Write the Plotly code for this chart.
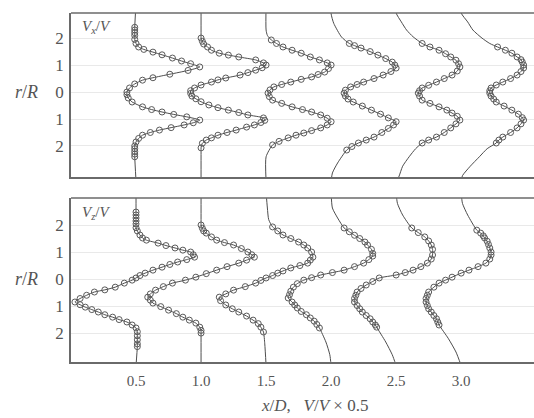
import plotly.graph_objects as go

# ---------------- data ----------------
STATIONS = [0.5, 1.0, 1.5, 2.0, 2.5, 3.0]
X_TICKS = [0.5, 1.0, 1.5, 2.0, 2.5, 3.0]
X_TICK_TEXT = ["0.5", "1.0", "1.5", "2.0", "2.5", "3.0"]
Y_TICKS = [2, 1, 0, -1, -2]
Y_TICK_TEXT = ["2", "1", "0", "1", "2"]

# Top panel, Vx/V : r/R positions and profile displacement (x/D units)
VX_R_05 = [3.3, 2.4, 2.3, 2.2, 2.1, 1.95, 1.8, 1.67, 1.58, 1.48, 1.38, 1.26, 1.15, 1.05, 0.93, 0.8, 0.66, 0.53, 0.44, 0.3, 0.15, 0.0, -0.1, -0.22, -0.37, -0.55, -0.65, -0.74, -0.83, -0.92, -1.04, -1.14, -1.22, -1.32, -1.41, -1.5, -1.6, -1.72, -1.85, -2.0, -2.1, -2.2, -2.3, -2.4, -3.3]
VX_D_05 = [0.0, -0.01, -0.01, -0.01, -0.01, -0.01, 0.0, 0.02, 0.06, 0.13, 0.2, 0.28, 0.35, 0.42, 0.49, 0.4, 0.26, 0.13, 0.05, -0.01, -0.05, -0.07, -0.07, -0.06, -0.03, 0.05, 0.12, 0.2, 0.29, 0.39, 0.49, 0.44, 0.37, 0.27, 0.18, 0.11, 0.05, 0.02, 0.0, -0.01, -0.01, -0.01, -0.01, -0.01, 0.0]
VX_R_10 = [3.3, 2.1, 2.0, 1.88, 1.78, 1.67, 1.55, 1.44, 1.37, 1.3, 1.19, 1.08, 1.0, 0.9, 0.81, 0.72, 0.63, 0.52, 0.45, 0.37, 0.26, 0.15, 0.05, -0.05, -0.15, -0.25, -0.36, -0.48, -0.58, -0.67, -0.76, -0.85, -0.96, -1.05, -1.13, -1.22, -1.3, -1.41, -1.5, -1.6, -1.7, -1.78, -1.9, -2.07, -2.2, -3.3]
VX_D_10 = [0.0, 0.0, 0.0, 0.01, 0.02, 0.05, 0.08, 0.14, 0.21, 0.29, 0.42, 0.48, 0.5, 0.47, 0.42, 0.36, 0.3, 0.19, 0.13, 0.08, 0.0, -0.05, -0.08, -0.08, -0.07, -0.04, 0.0, 0.06, 0.13, 0.21, 0.29, 0.36, 0.48, 0.49, 0.46, 0.41, 0.35, 0.27, 0.2, 0.13, 0.08, 0.04, 0.01, 0.0, 0.0, 0.0]
VX_R_15 = [3.3, 2.3, 2.1, 1.93, 1.8, 1.67, 1.55, 1.44, 1.3, 1.19, 1.08, 1.0, 0.87, 0.74, 0.65, 0.56, 0.47, 0.37, 0.28, 0.19, 0.08, -0.04, -0.17, -0.3, -0.42, -0.55, -0.65, -0.74, -0.85, -0.97, -1.1, -1.22, -1.33, -1.43, -1.52, -1.6, -1.7, -1.83, -1.96, -2.4, -3.3]
VX_D_15 = [0.0, 0.0, 0.01, 0.04, 0.08, 0.13, 0.2, 0.27, 0.34, 0.41, 0.47, 0.5, 0.48, 0.45, 0.4, 0.35, 0.27, 0.19, 0.12, 0.06, 0.03, 0.015, 0.025, 0.05, 0.12, 0.2, 0.28, 0.35, 0.42, 0.47, 0.5, 0.47, 0.42, 0.35, 0.29, 0.23, 0.17, 0.1, 0.05, 0.0, 0.0]
VX_R_20 = [3.3, 2.9, 2.55, 2.04, 1.8, 1.72, 1.63, 1.5, 1.37, 1.24, 1.11, 1.0, 0.89, 0.76, 0.63, 0.5, 0.37, 0.28, 0.19, 0.07, -0.04, -0.15, -0.26, -0.37, -0.52, -0.67, -0.82, -0.96, -1.1, -1.22, -1.35, -1.5, -1.67, -1.78, -1.89, -2.02, -2.15, -2.63, -3.0, -3.3]
VX_D_20 = [0.0, 0.0, 0.02, 0.08, 0.14, 0.18, 0.23, 0.3, 0.36, 0.42, 0.47, 0.49, 0.5, 0.46, 0.4, 0.33, 0.25, 0.2, 0.15, 0.11, 0.1, 0.11, 0.13, 0.17, 0.24, 0.31, 0.38, 0.44, 0.5, 0.48, 0.44, 0.39, 0.33, 0.27, 0.21, 0.16, 0.12, 0.05, 0.01, 0.0]
VX_R_25 = [3.3, 2.93, 2.6, 2.3, 2.05, 1.8, 1.67, 1.55, 1.42, 1.3, 1.18, 1.05, 0.93, 0.78, 0.63, 0.5, 0.37, 0.25, 0.15, 0.05, -0.04, -0.15, -0.3, -0.42, -0.55, -0.67, -0.78, -0.9, -1.04, -1.18, -1.33, -1.5, -1.67, -1.78, -1.89, -2.1, -2.4, -2.75, -3.15, -3.3]
VX_D_25 = [0.0, 0.0, 0.04, 0.08, 0.13, 0.2, 0.26, 0.33, 0.38, 0.42, 0.46, 0.48, 0.49, 0.47, 0.43, 0.37, 0.31, 0.25, 0.2, 0.18, 0.17, 0.18, 0.2, 0.26, 0.33, 0.39, 0.43, 0.47, 0.49, 0.46, 0.42, 0.37, 0.31, 0.25, 0.2, 0.15, 0.1, 0.05, 0.02, 0.0]
VX_R_30 = [3.3, 2.93, 2.6, 2.3, 2.0, 1.8, 1.67, 1.55, 1.44, 1.3, 1.2, 1.11, 1.0, 0.89, 0.76, 0.63, 0.5, 0.37, 0.26, 0.15, 0.05, -0.04, -0.15, -0.26, -0.37, -0.52, -0.67, -0.82, -0.95, -1.04, -1.18, -1.33, -1.5, -1.67, -1.78, -1.89, -2.1, -2.4, -2.75, -3.1, -3.3]
VX_D_30 = [0.0, 0.0, 0.05, 0.09, 0.16, 0.22, 0.28, 0.34, 0.39, 0.43, 0.46, 0.47, 0.48, 0.48, 0.46, 0.43, 0.38, 0.32, 0.27, 0.23, 0.22, 0.22, 0.23, 0.25, 0.27, 0.33, 0.39, 0.44, 0.47, 0.48, 0.46, 0.43, 0.38, 0.32, 0.29, 0.27, 0.2, 0.14, 0.07, 0.01, 0.0]
# r/R limits of the measured (circle) points for each Vx station: (upper, lower)
VX_MARK_HI = [2.45, 2.05, 1.95, 1.85, 1.85, 1.7]
VX_MARK_LO = [-2.45, -2.1, -2.0, -2.2, -1.95, -1.95]

# Bottom panel, Vz/V
VZ_R_05 = [3.2, 2.6, 2.48, 2.37, 2.26, 2.15, 2.04, 1.9, 1.78, 1.63, 1.52, 1.44, 1.33, 1.24, 1.15, 1.07, 1.0, 0.9, 0.81, 0.72, 0.63, 0.54, 0.44, 0.33, 0.22, 0.13, 0.04, -0.04, -0.15, -0.3, -0.4, -0.48, -0.6, -0.72, -0.85, -0.95, -1.04, -1.13, -1.22, -1.32, -1.41, -1.5, -1.59, -1.7, -1.81, -1.95, -2.1, -2.25, -2.4, -2.5, -3.2]
VZ_D_05 = [0.0, 0.0, 0.0, 0.0, 0.0, 0.0, 0.0, 0.0, 0.01, 0.03, 0.05, 0.08, 0.17, 0.23, 0.3, 0.36, 0.42, 0.44, 0.45, 0.39, 0.32, 0.26, 0.2, 0.13, 0.07, 0.03, 0.0, -0.03, -0.09, -0.16, -0.24, -0.32, -0.38, -0.43, -0.47, -0.43, -0.39, -0.34, -0.29, -0.24, -0.18, -0.13, -0.07, -0.03, 0.0, 0.01, 0.01, 0.01, 0.01, 0.01, 0.0]
VZ_R_10 = [3.2, 2.1, 2.0, 1.88, 1.78, 1.7, 1.56, 1.44, 1.35, 1.26, 1.13, 1.0, 0.9, 0.81, 0.7, 0.59, 0.46, 0.33, 0.2, 0.07, -0.04, -0.15, -0.28, -0.41, -0.55, -0.67, -0.78, -0.89, -1.02, -1.15, -1.28, -1.41, -1.52, -1.63, -1.78, -1.9, -2.0, -3.2]
VZ_D_10 = [0.0, 0.0, 0.0, 0.01, 0.02, 0.04, 0.08, 0.12, 0.18, 0.25, 0.31, 0.36, 0.39, 0.41, 0.35, 0.29, 0.2, 0.12, 0.04, -0.04, -0.12, -0.22, -0.29, -0.35, -0.39, -0.41, -0.39, -0.37, -0.31, -0.25, -0.19, -0.14, -0.09, -0.04, -0.01, 0.0, 0.0, 0.0]
VZ_R_15 = [3.2, 2.63, 2.2, 1.93, 1.78, 1.63, 1.5, 1.37, 1.26, 1.15, 1.0, 0.81, 0.7, 0.59, 0.5, 0.41, 0.3, 0.22, 0.13, 0.04, -0.05, -0.15, -0.28, -0.41, -0.55, -0.67, -0.8, -0.96, -1.1, -1.22, -1.37, -1.52, -1.65, -1.78, -1.96, -2.4, -3.2]
VZ_D_15 = [0.0, 0.01, 0.02, 0.05, 0.09, 0.13, 0.19, 0.25, 0.29, 0.32, 0.35, 0.36, 0.34, 0.32, 0.26, 0.19, 0.13, 0.09, 0.05, 0.0, -0.04, -0.08, -0.16, -0.25, -0.31, -0.36, -0.35, -0.31, -0.26, -0.21, -0.15, -0.1, -0.06, -0.04, -0.02, -0.01, 0.0]
VZ_R_20 = [3.2, 2.63, 2.26, 1.89, 1.75, 1.62, 1.5, 1.37, 1.26, 1.1, 0.95, 0.85, 0.72, 0.59, 0.46, 0.33, 0.24, 0.15, 0.05, -0.04, -0.17, -0.3, -0.45, -0.58, -0.7, -0.85, -0.96, -1.07, -1.2, -1.32, -1.44, -1.56, -1.68, -1.81, -2.33, -2.8, -3.2]
VZ_D_20 = [0.0, 0.01, 0.05, 0.1, 0.14, 0.18, 0.22, 0.26, 0.28, 0.31, 0.32, 0.32, 0.29, 0.25, 0.18, 0.1, 0.01, -0.08, -0.15, -0.21, -0.26, -0.29, -0.31, -0.32, -0.33, -0.3, -0.28, -0.26, -0.23, -0.19, -0.16, -0.13, -0.11, -0.09, -0.04, -0.01, 0.0]
VZ_R_25 = [3.2, 2.8, 2.37, 1.89, 1.72, 1.56, 1.41, 1.26, 1.1, 0.89, 0.74, 0.59, 0.46, 0.33, 0.24, 0.15, 0.04, -0.09, -0.22, -0.35, -0.48, -0.6, -0.72, -0.85, -0.98, -1.1, -1.22, -1.35, -1.47, -1.59, -1.7, -1.78, -2.33, -2.8, -3.2]
VZ_D_25 = [0.0, 0.01, 0.05, 0.12, 0.17, 0.22, 0.25, 0.27, 0.28, 0.28, 0.27, 0.24, 0.19, 0.13, 0.07, 0.0, -0.13, -0.18, -0.23, -0.27, -0.3, -0.31, -0.32, -0.32, -0.3, -0.28, -0.26, -0.23, -0.2, -0.18, -0.16, -0.15, -0.08, -0.03, 0.0]
VZ_R_30 = [3.2, 2.8, 2.37, 1.81, 1.7, 1.6, 1.52, 1.4, 1.28, 1.15, 1.0, 0.89, 0.74, 0.59, 0.46, 0.33, 0.22, 0.07, -0.04, -0.15, -0.3, -0.48, -0.6, -0.72, -0.85, -0.98, -1.1, -1.22, -1.35, -1.47, -1.59, -1.7, -2.19, -2.7, -3.2]
VZ_D_30 = [0.0, 0.01, 0.05, 0.12, 0.15, 0.17, 0.18, 0.2, 0.21, 0.22, 0.23, 0.23, 0.22, 0.19, 0.13, 0.06, 0.0, -0.07, -0.12, -0.17, -0.21, -0.25, -0.26, -0.27, -0.27, -0.26, -0.25, -0.23, -0.21, -0.19, -0.18, -0.17, -0.1, -0.04, 0.0]
VZ_MARK_HI = [2.5, 2.05, 1.95, 1.9, 1.9, 1.85]
VZ_MARK_LO = [-2.55, -2.05, -2.0, -1.85, -1.8, -1.75]

# ---------------- figure ----------------
LINE_C = "#4d4d4d"
MARK_C = "#5a5a5a"
TEXT_C = "#555555"
SERIF = "Liberation Serif, Times New Roman, serif"

fig = go.Figure()

panels = [
    ("x2", "y2", [(VX_R_05, VX_D_05), (VX_R_10, VX_D_10), (VX_R_15, VX_D_15),
                  (VX_R_20, VX_D_20), (VX_R_25, VX_D_25), (VX_R_30, VX_D_30)],
     VX_MARK_HI, VX_MARK_LO),
    ("x", "y", [(VZ_R_05, VZ_D_05), (VZ_R_10, VZ_D_10), (VZ_R_15, VZ_D_15),
                (VZ_R_20, VZ_D_20), (VZ_R_25, VZ_D_25), (VZ_R_30, VZ_D_30)],
     VZ_MARK_HI, VZ_MARK_LO),
]

for xa, ya, profiles, his, los in panels:
    for st, (rr, dd), hi, lo in zip(STATIONS, profiles, his, los):
        xs = [st + d for d in dd]
        fig.add_trace(go.Scatter(
            x=xs, y=rr, xaxis=xa, yaxis=ya, mode="lines",
            line=dict(color=LINE_C, width=1, shape="spline", smoothing=0.6),
            hoverinfo="skip", showlegend=False))
        mx = [x for x, r in zip(xs, rr) if lo <= r <= hi]
        my = [r for r in rr if lo <= r <= hi]
        fig.add_trace(go.Scatter(
            x=mx, y=my, xaxis=xa, yaxis=ya, mode="markers",
            marker=dict(symbol="circle-open", size=6, color=MARK_C,
                        line=dict(width=1, color=MARK_C)),
            hoverinfo="skip", showlegend=False))

XR = [0.0, 3.56]
common_y = dict(tickvals=Y_TICKS, ticktext=Y_TICK_TEXT, showgrid=True,
                gridcolor="#e9e9e9", gridwidth=1, zeroline=False,
                showline=True, linecolor="#6a6a6a", linewidth=1.5,
                ticks="", ticklabelstandoff=2,
                tickfont=dict(family=SERIF, size=17, color=TEXT_C))
common_x = dict(range=XR, showgrid=False, zeroline=False, showline=True,
                linecolor="#6a6a6a", linewidth=1.5, ticks="",
                tickvals=X_TICKS, ticktext=X_TICK_TEXT,
                tickfont=dict(family=SERIF, size=15, color=TEXT_C))

H = 349.0
W = 463.0
fig.update_layout(
    width=534, height=418,
    margin=dict(l=71, r=0, t=13, b=56),
    paper_bgcolor="white", plot_bgcolor="white",
    xaxis=dict(domain=[0, 1], anchor="y", ticklabelstandoff=4, **common_x),
    yaxis=dict(domain=[0, 164 / H], anchor="x", range=[-3.07, 3.0], **common_y),
    xaxis2=dict(domain=[0, 1], anchor="y2", showticklabels=False, **common_x),
    yaxis2=dict(domain=[(H - 164) / H, 1], anchor="x2", range=[-3.15, 2.93], **common_y),
)

# top border of each panel (no right border)
for xd, yd in [("x domain", "y domain"), ("x2 domain", "y2 domain")]:
    fig.add_shape(type="line", xref=xd, yref=yd, x0=0, x1=1, y0=1, y1=1,
                  line=dict(color="#6a6a6a", width=1.5))

ann_font = dict(family=SERIF, size=18, color=TEXT_C)
for ypx in [92, 279]:
    fig.add_annotation(xref="paper", yref="paper", x=(26 - 71) / W, y=(362 - ypx) / H,
                       xanchor="center", yanchor="middle",
                       text="<i>r</i>/<i>R</i>", showarrow=False, font=ann_font)
fig.add_annotation(xref="paper", yref="paper", x=(80 - 71) / W, y=(362 - 27) / H,
                   xanchor="left", yanchor="middle",
                   text="<i>V<sub>x</sub></i>/<i>V</i>", showarrow=False,
                   font=dict(family=SERIF, size=15, color=TEXT_C))
fig.add_annotation(xref="paper", yref="paper", x=(80 - 71) / W, y=(362 - 213) / H,
                   xanchor="left", yanchor="middle",
                   text="<i>V<sub>z</sub></i>/<i>V</i>", showarrow=False,
                   font=dict(family=SERIF, size=15, color=TEXT_C))
fig.add_annotation(xref="paper", yref="paper", x=(314 - 71) / W, y=(362 - 405) / H,
                   xanchor="center", yanchor="middle",
                   text="<i>x</i>/<i>D</i>,   <i>V</i>/<i>V</i> × 0.5", showarrow=False,
                   font=dict(family=SERIF, size=17, color=TEXT_C))

fig.write_html("out.html")
